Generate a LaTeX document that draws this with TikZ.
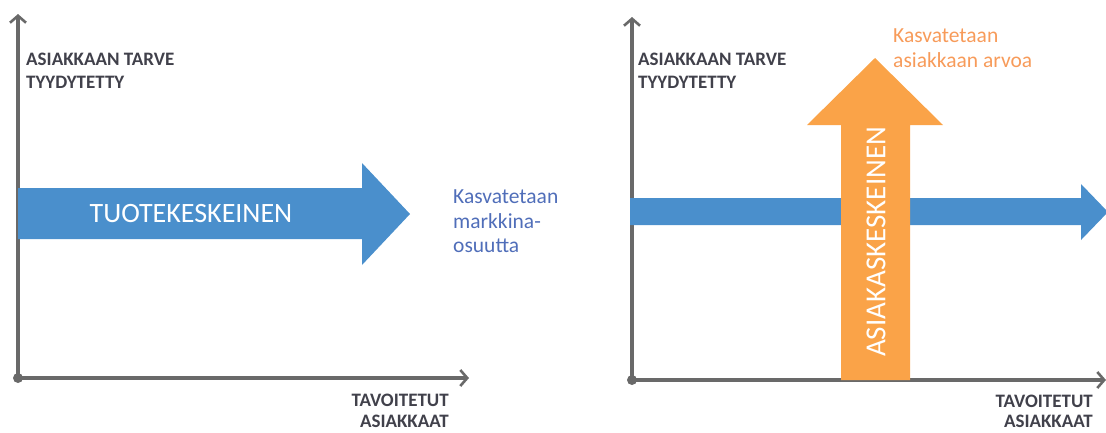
\documentclass[tikz,border=0pt]{standalone}
\usepackage{fontspec}
\setmainfont{Carlito}
\usetikzlibrary{arrows.meta}
\definecolor{axisgray}{RGB}{105,105,105}
\definecolor{labelgray}{RGB}{65,65,75}
\definecolor{barblue}{RGB}{74,143,204}
\definecolor{barorange}{RGB}{250,163,72}
\definecolor{noteblue}{RGB}{80,110,185}
\definecolor{noteorange}{RGB}{247,155,90}
\tikzset{
  axis/.style={draw=axisgray, line width=3.2pt,
    -{Straight Barb[length=7pt,width=16pt,line width=2.6pt]}},
  origindot/.style={circle, fill=axisgray, inner sep=0pt, minimum size=10pt},
  axislabel/.style={text=labelgray, font=\fontsize{19}{23}\selectfont\bfseries,
    inner sep=0pt, align=left},
  bluebar/.style={fill=barblue, draw=none},
  orangebar/.style={fill=barorange, draw=none},
  bartext/.style={text=white, font=\fontsize{28}{30}\selectfont, inner sep=0pt},
  note/.style={font=\fontsize{21.5}{24.5}\selectfont, inner sep=0pt, align=left}
}
\begin{document}
\begin{tikzpicture}[x=1pt,y=-1pt]
\useasboundingbox (0,0) rectangle (1106,432);

% ---------- left chart: product-centred ----------
\coordinate (oL) at (18,378);
\coordinate (yL) at (18,14);
\coordinate (xL) at (469,378);
\draw[axis] (oL) -- (yL);
\draw[axis] (oL) -- (xL);
\node[origindot] (dotL) at (oL) {};

\fill[bluebar] (18,188) -- (362,188) -- (362,163) -- (410,214)
  -- (362,265) -- (362,239) -- (18,239) -- cycle;
\node[bartext, anchor=center] (tuote) at (191,214) {TUOTEKESKEINEN};

\node[axislabel, anchor=base west] (yLabL1) at (26,65) {ASIAKKAAN TARVE};
\node[axislabel, anchor=base west] (yLabL2) at (26,88) {TYYDYTETTY};
\node[axislabel, anchor=base east] (xLabL1) at (449,406) {TAVOITETUT};
\node[axislabel, anchor=base east] (xLabL2) at (449,427) {ASIAKKAAT};

\node[note, text=noteblue, anchor=base west] (noteL1) at (453,203) {Kasvatetaan};
\node[note, text=noteblue, anchor=base west] (noteL2) at (453,228) {markkina-};
\node[note, text=noteblue, anchor=base west] (noteL3) at (453,252) {osuutta};

% ---------- right chart: customer-centred ----------
\coordinate (oR) at (632,380);
\coordinate (yR) at (632,17);
\coordinate (xR) at (1106,380);
\draw[axis] (oR) -- (yR);
\draw[axis] (oR) -- (xR);
\node[origindot] (dotR) at (oR) {};

\fill[bluebar] (630,198) -- (1081,198) -- (1081,184) -- (1108,212)
  -- (1081,240) -- (1081,225) -- (630,225) -- cycle;

\fill[orangebar] (841,380) -- (841,125) -- (807,125) -- (875,58)
  -- (943,125) -- (910,125) -- (910,380) -- cycle;
\node[bartext, rotate=90, anchor=center, font=\fontsize{29}{30}\selectfont]
  (asiakas) at (876,242) {ASIAKASKESKEINEN};

\node[axislabel, anchor=base west] (yLabR1) at (638,65) {ASIAKKAAN TARVE};
\node[axislabel, anchor=base west] (yLabR2) at (638,88) {TYYDYTETTY};
\node[axislabel, anchor=base east] (xLabR1) at (1093,407) {TAVOITETUT};
\node[axislabel, anchor=base east] (xLabR2) at (1093,427) {ASIAKKAAT};

\node[note, text=noteorange, anchor=base west] (noteR1) at (893,42) {Kasvatetaan};
\node[note, text=noteorange, anchor=base west] (noteR2) at (893,67) {asiakkaan arvoa};
\end{tikzpicture}
\end{document}
